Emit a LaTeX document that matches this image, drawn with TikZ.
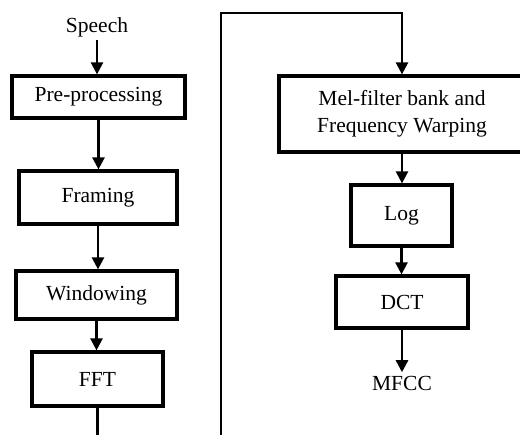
\documentclass[tikz,border=0pt]{standalone}
\usepackage{fontspec}
\setmainfont{Liberation Serif}
\usepackage{tikz}
\usetikzlibrary{arrows.meta}
\usetikzlibrary{positioning}

\tikzset{
  block/.style={draw,line width=3.2pt,inner sep=0pt,align=center},
  flow/.style={line width=2.4pt,-{Triangle[width=12pt,length=12pt]}}
}

\begin{document}
\begin{tikzpicture}[x=1pt,y=-1pt,font=\fontsize{21.5}{27}\selectfont]
\useasboundingbox (0,0) rectangle (520,435);
\clip (0,0) rectangle (520,435);
% left column
\node (speech) at (97,27) {Speech};
\node[block,minimum width=173pt,minimum height=42pt] (pre) at (98.5,97) {Pre-processing};
\node[block,minimum width=158pt,minimum height=53pt] (frm) at (98,197.5) {Framing};
\node[block,minimum width=161pt,minimum height=48pt] (win) at (96.5,295) {Windowing};
\node[block,minimum width=131pt,minimum height=54pt] (fft) at (97.5,379) {FFT};
% right column
\node[block,minimum width=246pt,minimum height=76pt] (mel) at (402,114) {Mel-filter bank and\\Frequency Warping};
\node[block,minimum width=101pt,minimum height=61pt] (log) at (401.5,215.5) {Log};
\node[block,minimum width=132pt,minimum height=52pt] (dct) at (402,302) {DCT};
\node (mfcc) at (402,383) {MFCC};
% connectors
\draw[flow] (speech.south) -- (speech.south |- pre.north);
\draw[flow] (pre.south) -- (pre.south |- frm.north);
\draw[flow] (frm.south) -- (frm.south |- win.north);
\draw[flow] (win.south) -- (win.south |- fft.north);
\coordinate (low) at (221,470);
\coordinate (high) at (221,13);
\draw[flow] (fft.south) |- (low) -- (high) -| (mel.north);
\draw[flow] (mel.south) -- (mel.south |- log.north);
\draw[flow] (log.south) -- (log.south |- dct.north);
\draw[flow] (dct.south) -- (dct.south |- mfcc.north);
\end{tikzpicture}
\end{document}
